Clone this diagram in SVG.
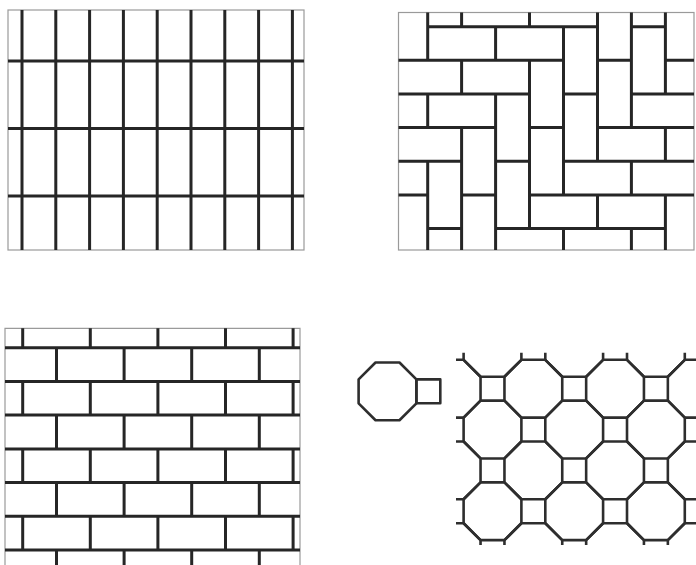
<svg xmlns="http://www.w3.org/2000/svg" xmlns:xlink="http://www.w3.org/1999/xlink" width="696" height="565" viewBox="0 0 696 565">
<style>
.t{fill:none;stroke:#262626;stroke-width:3;stroke-linecap:butt}
.b{fill:none;stroke:#9a9a9a;stroke-width:1.2}
.o{fill:none;stroke:#2e2e2e;stroke-width:2.6;stroke-linejoin:round}
</style>
<defs>
<polygon id="oct" points="-11.97,-28.89 11.97,-28.89 28.89,-11.97 28.89,11.97 11.97,28.89 -11.97,28.89 -28.89,11.97 -28.89,-11.97"/>
<clipPath id="clip4"><rect x="456" y="352.7" width="240" height="192.3"/></clipPath>
</defs>
<rect width="696" height="565" fill="#fff"/>

<g id="stack-bond">
<rect class="b" x="8" y="10" width="296" height="240"/>
<path class="t" d="M22 10V250M55.8 10V250M89.6 10V250M123.4 10V250M157.2 10V250M191 10V250M224.8 10V250M258.6 10V250M292.4 10V250"/>
<path class="t" d="M8 61H304M8 128.5H304M8 196H304"/>
</g>

<g id="herringbone">
<rect class="b" x="398.5" y="12.5" width="295.5" height="237.5"/>
<path class="t" d="M427.7 26.7H597.5M631.4 26.7H665.4
M398.5 60.3H563.5M597.5 60.3H631.4M665.4 60.3H694
M398.5 94H529.5M563.5 94H597.5M631.4 94H694
M398.5 127.6H495.6M529.5 127.6H563.5M597.5 127.6H694
M398.5 161.3H461.6M495.6 161.3H529.5M563.5 161.3H694
M398.5 194.9H427.7M461.6 194.9H495.6M529.5 194.9H694
M427.7 228.6H461.6M495.6 228.6H665.4"/>
<path class="t" d="M427.7 12.5V60.3M427.7 94V127.6M427.7 161.3V250
M461.6 12.5V26.7M461.6 60.3V94M461.6 127.6V250
M495.6 26.7V60.3M495.6 94V250
M529.5 12.5V26.7M529.5 60.3V228.6
M563.5 26.7V194.9M563.5 228.6V250
M597.5 12.5V161.3M597.5 194.9V228.6
M631.4 12.5V127.6M631.4 161.3V194.9M631.4 228.6V250
M665.4 12.5V94M665.4 127.6V161.3M665.4 194.9V250"/>
</g>

<g id="running-bond">
<path class="b" d="M5 565V328.3H300V565"/>
<path class="t" d="M5 347.7H300M5 381.4H300M5 415.1H300M5 448.9H300M5 482.6H300M5 516.3H300M5 550H300"/>
<path class="t" d="M22.7 328.3V347.7M90.3 328.3V347.7M157.9 328.3V347.7M225.5 328.3V347.7M293.1 328.3V347.7
M56.5 347.7V381.4M124.1 347.7V381.4M191.7 347.7V381.4M259.3 347.7V381.4
M22.7 381.4V415.1M90.3 381.4V415.1M157.9 381.4V415.1M225.5 381.4V415.1M293.1 381.4V415.1
M56.5 415.1V448.9M124.1 415.1V448.9M191.7 415.1V448.9M259.3 415.1V448.9
M22.7 448.9V482.6M90.3 448.9V482.6M157.9 448.9V482.6M225.5 448.9V482.6M293.1 448.9V482.6
M56.5 482.6V516.3M124.1 482.6V516.3M191.7 482.6V516.3M259.3 482.6V516.3
M22.7 516.3V550M90.3 516.3V550M157.9 516.3V550M225.5 516.3V550M293.1 516.3V550
M56.5 550V565M124.1 550V565M191.7 550V565M259.3 550V565"/>
</g>

<g id="octagon-square-unit">
<use xlink:href="#oct" class="o" x="387.5" y="391.4"/>
<rect class="o" x="416.4" y="379.4" width="23.9" height="23.9"/>
</g>

<g id="octagon-square-tiling" clip-path="url(#clip4)">
<use xlink:href="#oct" class="o" x="492.5" y="347.85"/>
<use xlink:href="#oct" class="o" x="574.2" y="347.85"/>
<use xlink:href="#oct" class="o" x="655.9" y="347.85"/>
<use xlink:href="#oct" class="o" x="451.65" y="388.7"/>
<use xlink:href="#oct" class="o" x="533.35" y="388.7"/>
<use xlink:href="#oct" class="o" x="615.05" y="388.7"/>
<use xlink:href="#oct" class="o" x="696.75" y="388.7"/>
<use xlink:href="#oct" class="o" x="492.5" y="429.55"/>
<use xlink:href="#oct" class="o" x="574.2" y="429.55"/>
<use xlink:href="#oct" class="o" x="655.9" y="429.55"/>
<use xlink:href="#oct" class="o" x="451.65" y="470.4"/>
<use xlink:href="#oct" class="o" x="533.35" y="470.4"/>
<use xlink:href="#oct" class="o" x="615.05" y="470.4"/>
<use xlink:href="#oct" class="o" x="696.75" y="470.4"/>
<use xlink:href="#oct" class="o" x="492.5" y="511.25"/>
<use xlink:href="#oct" class="o" x="574.2" y="511.25"/>
<use xlink:href="#oct" class="o" x="655.9" y="511.25"/>
<use xlink:href="#oct" class="o" x="451.65" y="552.1"/>
<use xlink:href="#oct" class="o" x="533.35" y="552.1"/>
<use xlink:href="#oct" class="o" x="615.05" y="552.1"/>
<use xlink:href="#oct" class="o" x="696.75" y="552.1"/>
</g>
</svg>
